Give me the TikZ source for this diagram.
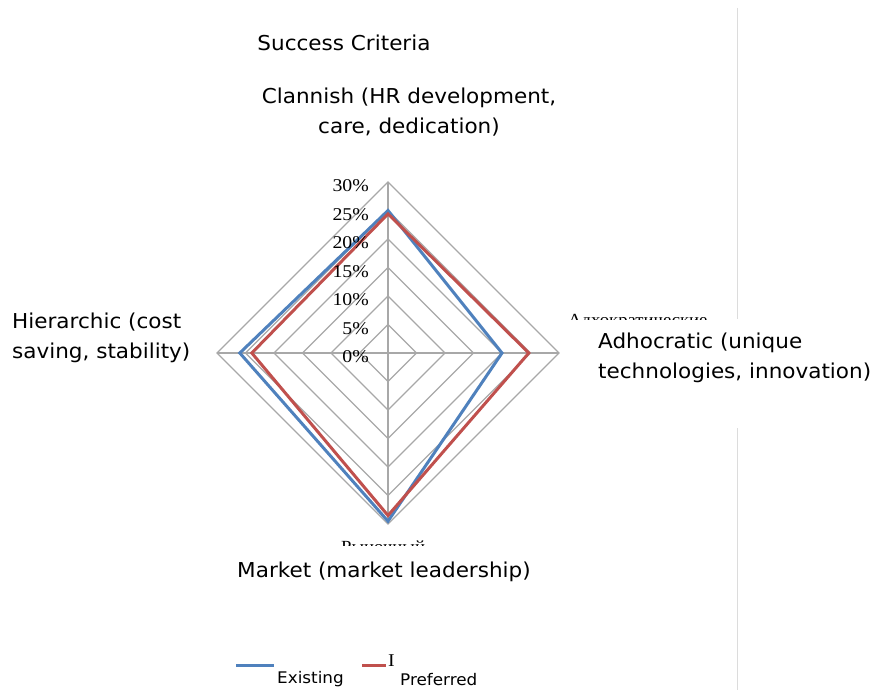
\documentclass[tikz,border=0pt]{standalone}
\usepackage{fontspec}
\newfontfamily\labfont{DejaVu Sans}[FakeStretch=1.05]
\newfontfamily\axfont{Liberation Serif}[FakeStretch=1.1]
\usepackage{tikz}
\usetikzlibrary{positioning}
\definecolor{exblue}{RGB}{79,129,189}
\definecolor{prred}{RGB}{192,80,77}
\definecolor{gridgray}{RGB}{168,168,168}
\tikzset{
  gridline/.style={draw=gridgray, line width=1.3pt},
  existing/.style={draw=exblue, line width=3pt, line join=miter},
  preferred/.style={draw=prred, line width=3pt, line join=miter},
  lab/.style={inner sep=0pt, font=\labfont\fontsize{20.5}{30}\selectfont},
  legtext/.style={inner sep=0pt, font=\labfont\fontsize{16}{18}\selectfont},
  pct/.style={inner sep=0pt, font=\axfont\fontsize{18}{20}\selectfont},
  ruslab/.style={inner sep=0pt, font=\axfont\fontsize{17}{20}\selectfont}
}

\begin{document}
\begin{tikzpicture}[x=1pt,y=-1pt]
  \useasboundingbox (0,0) rectangle (872,690);

  % Draw the page rule on the right.
  \draw[gridgray!40, line width=1pt] (737,8) -- (737,319);
  \draw[gridgray!40, line width=1pt] (737,428) -- (737,690);

  % Draw radar grid and axes.
  \begin{scope}[shift={(388,353)}]
    \foreach \p in {5,10,...,30}
      \draw[gridline] (0,{-\p*5.7}) -- ({\p*5.7},0) -- (0,{\p*5.7}) -- ({-\p*5.7},0) -- cycle;
    \draw[gridline] (0,-171) -- (0,171);
    \draw[gridline] (-171,0) -- (171,0);

    % Draw the two series.
    \draw[existing] (0,-142.5) -- (114,0) -- (0,168.2) -- (-148.2,0) -- cycle;
    \draw[preferred] (0,-139.1) -- (140.8,0) -- (0,162.5) -- (-136.2,0) -- cycle;
  \end{scope}

  % Percent labels on the vertical axis.
  \foreach \p in {0,5,...,30}
    \node[pct, anchor=east] (pct\p) at (369,{357-\p*5.7}) {\p\%};

  % Category names, mostly hidden.
  \begin{scope}
    \clip (540,300) rectangle (760,319);
    \node[ruslab, anchor=base west] (rusadho) at (568,325) {Адхократические};
  \end{scope}
  \begin{scope}
    \clip (320,530) rectangle (460,545);
    \node[ruslab, anchor=base west] (rusmark) at (341,552) {Рыночный};
  \end{scope}

  % Title and axis labels.
  \node[lab] (title) at (344,43) {Success Criteria};
  \node[lab, align=center] (clan) at (409,112) {Clannish (HR development,\\care, dedication)};
  \node[lab, align=left, anchor=west] (hier) at (12,338) {Hierarchic (cost\\saving, stability)};
  \node[lab, align=left, anchor=west] (adho) at (598,358) {Adhocratic (unique\\technologies, innovation)};
  \node[lab] (mark) at (384,572) {Market (market leadership)};

  % Legend.
  \draw[existing] (236,665) -- (274,665);
  \node[legtext, anchor=west] (legex) at (277,679) {Existing};
  \draw[preferred] (362,665) -- (386,665);
  \node[pct, anchor=west] (cursor) at (388,661) {I};
  \node[legtext, anchor=west] (legpr) at (400,680) {Preferred};
\end{tikzpicture}
\end{document}
